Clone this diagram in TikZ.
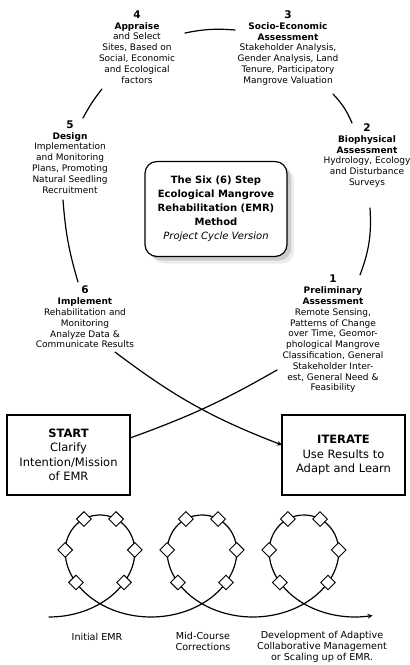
\documentclass[tikz,border=0pt]{standalone}
\usepackage{fontspec}
\setmainfont{DejaVu Sans}
\usepackage{tikz}
\usetikzlibrary{shapes.geometric, positioning, arrows, shadows}
\newcommand{\stepnum}[1]{{\fontsize{10.5}{12}\selectfont\bfseries #1}}

\begin{document}
\begin{tikzpicture}[x=1pt,y=-1pt,
  declare function={lx(\t)=100+16.23*\t-58*sin(\t r); ly(\t)=566-51*cos(\t r);}, % the looping path at the bottom
  stepnote/.style={align=center, inner sep=1pt, font=\fontsize{9}{10.8}\selectfont},
  link/.style={line width=1.2pt, line cap=round},
  bigbox/.style={draw, line width=1.2pt, align=center, minimum width=123pt, minimum height=80pt, inner sep=2pt, font=\fontsize{11.5}{14.5}\selectfont},
  knot/.style={diamond, draw, fill=white, line width=0.9pt, minimum size=15pt, inner sep=0pt},
  caption/.style={align=center, font=\fontsize{9.6}{11}\selectfont}]
   \useasboundingbox (0,0) rectangle (410,665);
   % the six steps round the cycle
   \node[stepnote] (s4) at (137,47) {\stepnum{4}\\ \textbf{Appraise}\\ and Select\\ Sites, Based on\\ Social, Economic\\ and Ecological\\ factors};
   \node[stepnote] (s3) at (288,48) {\stepnum{3}\\ \textbf{Socio-Economic}\\ \textbf{Assessment}\\ Stakeholder Analysis,\\ Gender Analysis, Land\\ Tenure, Participatory\\ Mangrove Valuation};
   \node[stepnote] (s2) at (367,155.5) {\stepnum{2}\\ \textbf{Biophysical}\\ \textbf{Assessment}\\ Hydrology, Ecology\\ and Disturbance\\ Surveys};
   \node[stepnote] (s1) at (333,334) {\stepnum{1}\\ \textbf{Preliminary}\\ \textbf{Assessment}\\ Remote Sensing,\\ Patterns of Change\\ over Time, Geomor-\\ phological Mangrove\\ Classification, General\\ Stakeholder Inter-\\ est, General Need \&\\ Feasibility};
   \node[stepnote] (s6) at (85,317) {\stepnum{6}\\ \textbf{Implement}\\ Rehabilitation and\\ Monitoring\\ Analyze Data \&\\ Communicate Results};
   \node[stepnote] (s5) at (70,157) {\stepnum{5}\\ \textbf{Design}\\ Implementation\\ and Monitoring\\ Plans, Promoting\\ Natural Seedling\\ Recruitment};
   % title box in the middle
   \node[draw, rounded corners=12pt, line width=1.2pt, minimum width=142pt, minimum height=95pt, align=center, fill=white,
     font=\fontsize{10}{14}\selectfont\bfseries,
     drop shadow={shadow xshift=7pt, shadow yshift=-7pt, opacity=0.15},
     drop shadow={shadow xshift=4pt, shadow yshift=-4pt, opacity=0.3}] (title) at (216,209)
     {The Six (6) Step\\ Ecological Mangrove\\ Rehabilitation (EMR)\\ Method\\ \mdseries\itshape Project Cycle Version};
   \node[bigbox] (start) at (68.5,455) {\textbf{START}\\ Clarify\\ Intention/Mission\\ of EMR};
   \node[bigbox] (iterate) at (343.5,455) {\textbf{ITERATE}\\ Use Results to\\ Adapt and Learn};
   % arcs of the cycle
   \draw[link] ([shift={(48,-14)}]s4.center) to[bend left=8] ([shift={(-53,-18)}]s3.center);
   \draw[link] ([shift={(45,46)}]s3.center) to[bend left=10] ([shift={(-15,-32.5)}]s2.center);
   \draw[link] ([shift={(3,52.5)}]s2.center) to[bend left=12] ([shift={(27,-59)}]s1.center);
   \draw[link] ([shift={(-56,36)}]s1.center) to[bend left=5] ([shift={(61.5,-17)}]start.center);
   \draw[link,-stealth] ([shift={(30,35)}]s6.center) to[bend right=8] ([shift={(-61.5,-10)}]iterate.center);
   \draw[link] ([shift={(-7,43)}]s5.center) to[bend right=6] ([shift={(-7,-35)}]s6.center);
   \draw[link] ([shift={(-35,42)}]s4.center) to[bend right=5] ([shift={(13,-39)}]s5.center);
   % looping path with its steps
   \draw[link,-stealth] plot[smooth,samples=180,domain=-3.1416:15.95] ({lx(\x)},{ly(\x)});
   \foreach \k in {0,1,2}
   {\foreach \u [count=\j] in {-1.9,-1.25,-0.4,0.4,1.25,1.9}
     {\node[knot] (d\k-\j) at ({lx(2*pi*\k+\u)},{ly(2*pi*\k+\u)}) {};}} % diamonds on each loop
   \node[caption] (c1) at (97,637) {Initial EMR};
   \node[caption] (c2) at (203,641.5) {Mid-Course\\ Corrections};
   \node[caption] (c3) at (322,647) {Development of Adaptive\\ Collaborative Management\\ or Scaling up of EMR.};
\end{tikzpicture}
\end{document}
